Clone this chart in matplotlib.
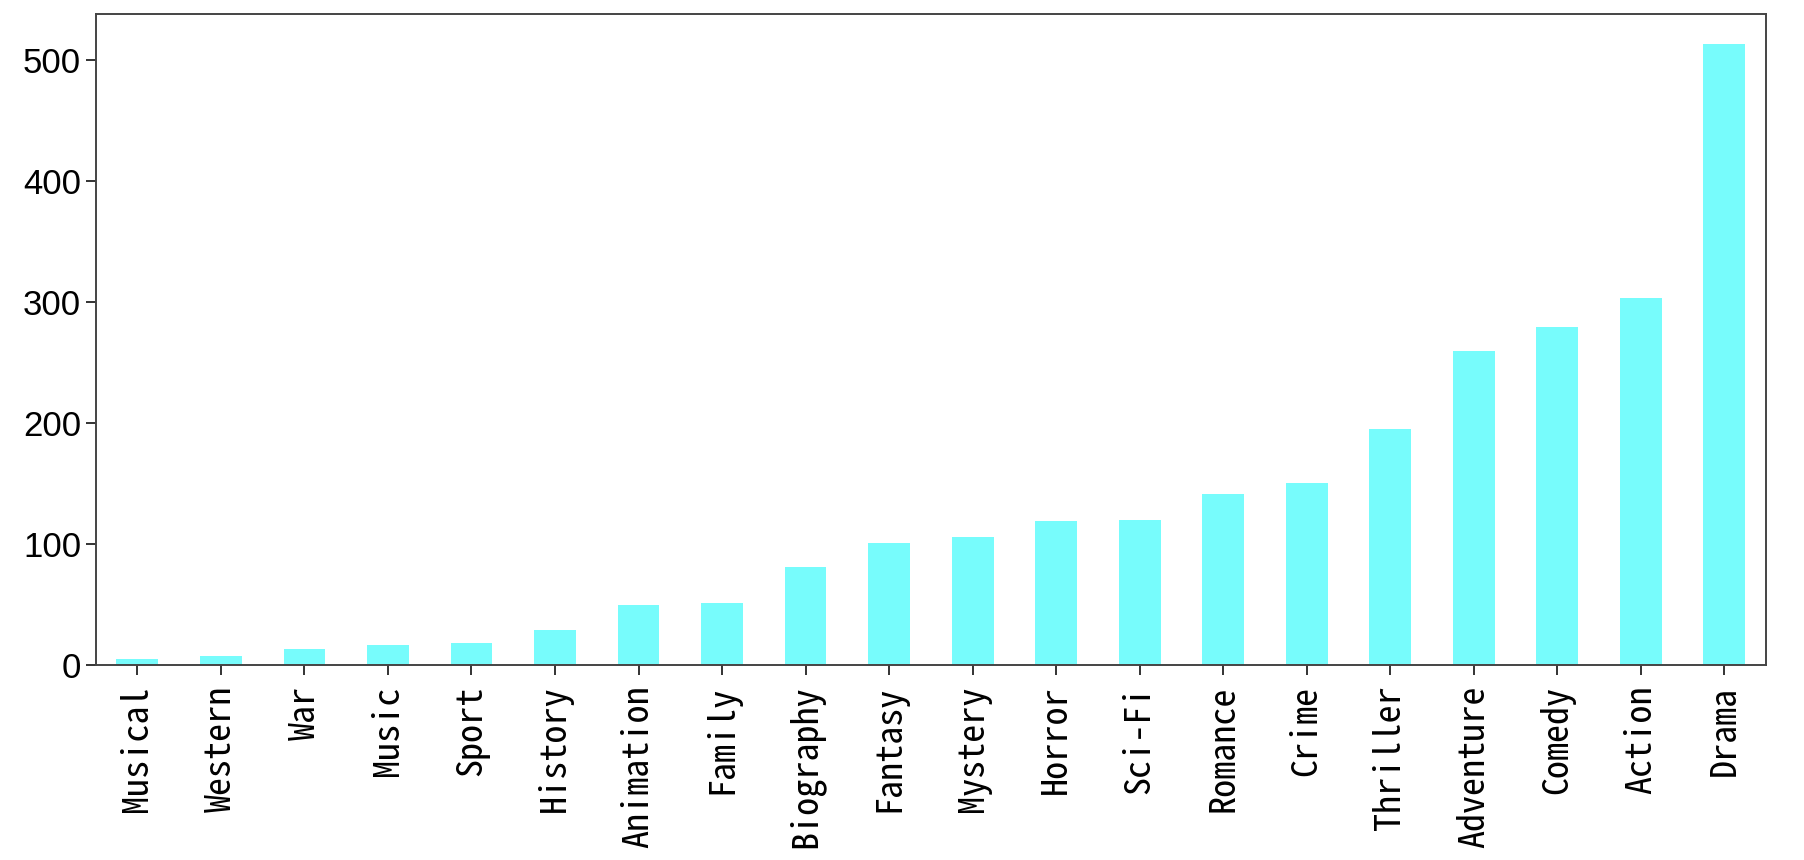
import matplotlib
matplotlib.use("Agg")
import matplotlib.pyplot as plt

genres = ["Musical", "Western", "War", "Music", "Sport", "History", "Animation",
          "Family", "Biography", "Fantasy", "Mystery", "Horror", "Sci-Fi",
          "Romance", "Crime", "Thriller", "Adventure", "Comedy", "Action", "Drama"]
counts = [5, 7, 13, 16, 18, 29, 49, 51, 81, 101, 106, 119, 120, 141, 150, 195,
          259, 279, 303, 513]

bar_color = "#77FCFC"

fig = plt.figure(figsize=(18.04, 8.6), dpi=100)
ax = fig.add_axes([0.053, 0.227, 0.926, 0.757])

x = list(range(len(genres)))
ax.bar(x, counts, width=0.5, color=bar_color)
ax.set_xlim(-0.5, len(genres) - 0.5)
ax.set_ylim(0, 538)
ax.set_yticks([0, 100, 200, 300, 400, 500])
ax.set_xticks(x)
ax.set_xticklabels(genres, rotation=90, fontsize=26, fontweight="medium",
                   family=["Noto Sans Mono CJK SC", "DejaVu Sans Mono"])
for lbl in ax.get_yticklabels():
    lbl.set_fontsize(25)
    lbl.set_family(["Liberation Sans", "DejaVu Sans"])

ax.tick_params(axis="both", length=7, width=1.4, color="#333333")
ax.tick_params(axis="x", pad=8)
for s in ax.spines.values():
    s.set_linewidth(1.4)
    s.set_color("#444444")

fig.savefig("out.png", dpi=100)
